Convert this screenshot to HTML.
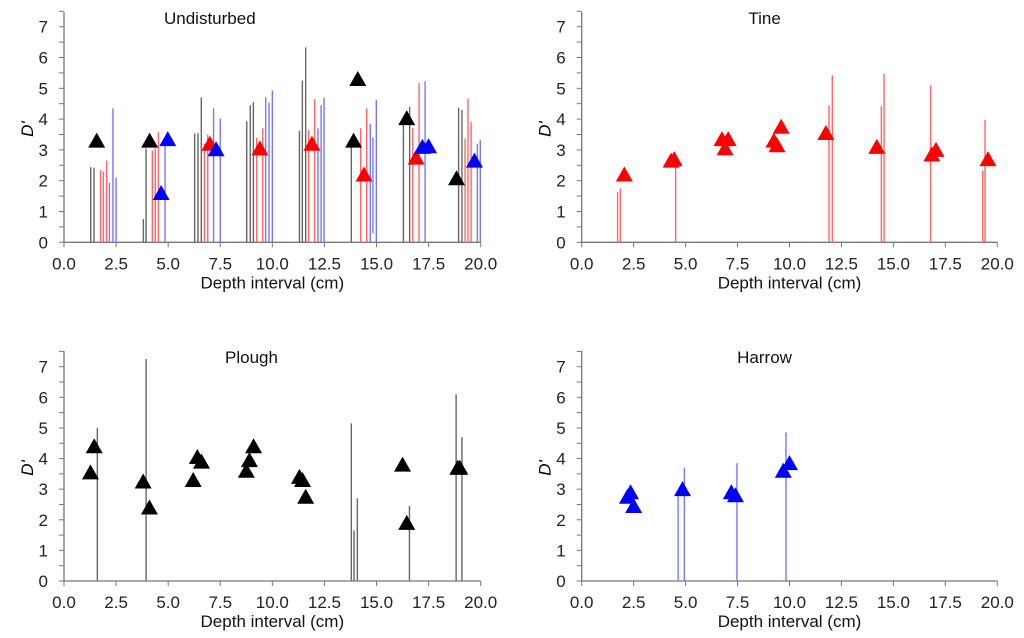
<!DOCTYPE html>
<html><head><meta charset="utf-8"><style>
body{margin:0;background:#fff}
svg{display:block;font-family:"Liberation Sans",Arial,sans-serif}
</style></head><body>
<svg id="c" width="1024" height="638" viewBox="0 0 1024 638"></svg>
<script>
const xTicks=[0,2.5,5,7.5,10,12.5,15,17.5,20];
const xTickLabels=["0.0","2.5","5.0","7.5","10.0","12.5","15.0","17.5","20.0"];
const yTicks=[0,1,2,3,4,5,6,7];
const panelTitles=["Undisturbed","Tine","Plough","Harrow"];
const undLinesX=[1.28,1.44,1.76,1.89,2.05,2.18,2.35,2.5,3.81,3.94,4.24,4.38,4.53,4.85,6.27,6.43,6.59,6.74,6.9,7.18,7.5,8.77,8.94,9.09,9.25,9.54,9.68,9.84,10.0,11.3,11.44,11.6,11.74,12.03,12.19,12.34,12.48,13.79,14.24,14.53,14.7,14.83,14.99,16.29,16.59,16.74,17.04,17.33,18.94,19.1,19.25,19.39,19.54,19.84,19.98];
const undLinesTop=[2.44,2.42,2.35,2.3,2.65,1.93,4.35,2.1,0.75,3.05,2.98,3.05,3.58,3.3,3.53,3.55,4.7,3.2,3.5,4.35,4.02,3.93,4.45,4.55,3.4,3.7,4.7,4.53,4.93,3.62,5.25,6.33,3.65,4.65,3.7,4.45,4.7,3.3,3.7,4.35,3.85,3.4,4.62,4.0,4.4,3.7,5.17,5.23,4.37,4.3,3.37,4.67,3.9,3.2,3.32];
const undLinesBottom=[0,0,0,0,0,0,0,0,0,0,0,0,0,0,0,0,0,0,0,0,0,0,0,0,0,0,0,0,0,0,0,0,0,0,0,0,0,0,0,0,0,0.3,0,0,0,0,0,0,0,0,0,0,0,0,0];
const undLinesColor=["k","k","r","r","r","b","b","b","k","k","r","r","r","b","k","k","k","r","r","b","b","k","k","k","r","r","b","b","b","k","k","k","r","r","b","b","b","k","r","r","b","b","b","k","k","r","r","b","k","k","r","r","r","b","b"];
const undTriX=[1.57,4.11,13.9,14.1,16.45,18.84,7.0,9.4,11.9,14.4,16.9,4.66,4.98,7.3,17.2,17.5,19.7];
const undTriY=[3.3,3.3,3.3,5.3,4.03,2.08,3.2,3.05,3.2,2.2,2.75,1.6,3.35,3.02,3.1,3.12,2.65];
const undTriColor=["k","k","k","k","k","k","r","r","r","r","r","b","b","b","b","b","b"];
const tineLinesX=[1.73,1.86,4.52,11.9,12.06,14.42,14.55,16.79,19.3,19.41];
const tineLinesTop=[1.63,1.75,2.85,4.45,5.42,4.42,5.47,5.1,2.33,3.98];
const tineTriX=[2.05,4.3,4.45,6.75,6.9,7.05,9.25,9.4,9.6,11.75,14.2,16.85,17.05,19.55];
const tineTriY=[2.2,2.65,2.7,3.35,3.05,3.35,3.3,3.15,3.75,3.55,3.1,2.85,3.0,2.7];
const plLinesX=[1.6,3.94,13.79,13.92,14.08,16.58,18.82,19.1];
const plLinesTop=[5.0,7.25,5.15,1.65,2.7,2.45,6.1,4.7];
const plTriX=[1.27,1.45,3.8,4.1,6.2,6.4,6.6,8.75,8.9,9.1,11.3,11.45,11.6,16.25,16.45,18.9,19.0];
const plTriY=[3.55,4.4,3.25,2.4,3.3,4.05,3.9,3.6,3.95,4.4,3.4,3.3,2.75,3.8,1.9,3.7,3.7];
const haLinesX=[4.64,4.94,7.47,9.83];
const haLinesTop=[2.85,3.7,3.85,4.85];
const haTriX=[2.2,2.35,2.5,4.85,7.2,7.4,9.7,10.0];
const haTriY=[2.75,2.9,2.45,3.0,2.9,2.8,3.6,3.85];

const NS="http://www.w3.org/2000/svg";
const svg=document.getElementById('c');
const LC={k:"#666",r:"#f66",b:"#77f"}, TC={k:"#000",r:"#f00",b:"#00f"};
function mk(t,a,p){const e=document.createElementNS(NS,t);for(const k in a)e.setAttribute(k,a[k]);(p||svg).appendChild(e);return e;}
const panels=[{x0:64,x1:480.7,y0:242.3,y7:26.7,top:12,tf:0.35},{x0:581.7,x1:997.3,y0:242.3,y7:26.7,top:12,tf:0.44},
{x0:64,x1:480.7,y0:581,y7:366.7,top:351,tf:0.45},{x0:581.7,x1:997.3,y0:581,y7:366.7,top:351,tf:0.44}];
function drawPanel(i,lx,lb,lt,lc,tx,ty,tc,xlabel){
  const P=panels[i];
  const g=mk('g',{});
  
  
  const X=v=>P.x0+(P.x1-P.x0)*v/20, Y=v=>P.y0-(P.y0-P.y7)*v/7;
  const ax=mk('path',{d:`M${P.x0},${P.top}V${P.y0}H${P.x1}`,stroke:"#777",fill:"none","stroke-width":1.3},g);
  
  for(let v=0;v<=7.5;v+=0.5){mk('line',{x1:P.x0-5,x2:P.x0,y1:Y(v),y2:Y(v),stroke:"#777"},g);}
  yTicks.forEach(v=>{const t=mk('text',{x:P.x0-16,y:Y(v)+6,"font-size":17,"text-anchor":"end",fill:"#222"},g);t.textContent=v;
    });
  xTicks.forEach((v,j)=>{mk('line',{x1:X(v),x2:X(v),y1:P.y0,y2:P.y0+5,stroke:"#777"},g);
    const t=mk('text',{x:X(v),y:P.y0+27,"font-size":17,"text-anchor":"middle",fill:"#222"},g);t.textContent=xTickLabels[j];
    });
  const yl=mk('text',{x:0,y:0,"font-size":17,"font-style":"italic",transform:`translate(${P.x0-31},${(P.y0+P.top)/2+2}) rotate(-90)`,"text-anchor":"middle"},g);
  yl.textContent="D'";
  if(xlabel){const xl=mk('text',{x:(P.x0+P.x1)/2,y:P.y0+46,"font-size":17,"text-anchor":"middle",fill:"#111"},g);xl.textContent="Depth interval (cm)";
    }
  const ti=mk('text',{x:P.x0+(P.x1-P.x0)*P.tf,y:P.top+12,"font-size":17,"text-anchor":"middle",fill:"#111"},g);ti.textContent=panelTitles[i];
  
  lx.forEach((v,j)=>{const l=mk('line',{x1:X(v),x2:X(v),y1:Y(lb?lb[j]:0),y2:Y(lt[j]),stroke:LC[typeof lc==='string'?lc:lc[j]],"stroke-width":1.4},g);
    });
  tx.forEach((v,j)=>{const cx=X(v),cy=Y(ty[j]);
    const p=mk('polygon',{points:`${cx-8.5},${cy+7} ${cx+8.5},${cy+7} ${cx},${cy-8}`,fill:TC[typeof tc==='string'?tc:tc[j]]},g);
    });
}
drawPanel(0,undLinesX,undLinesBottom,undLinesTop,undLinesColor,undTriX,undTriY,undTriColor,true);
drawPanel(1,tineLinesX,null,tineLinesTop,"r",tineTriX,tineTriY,"r",true);
drawPanel(2,plLinesX,null,plLinesTop,"k",plTriX,plTriY,"k",true);
drawPanel(3,haLinesX,null,haLinesTop,"b",haTriX,haTriY,"b",true);
</script>
</body></html>
